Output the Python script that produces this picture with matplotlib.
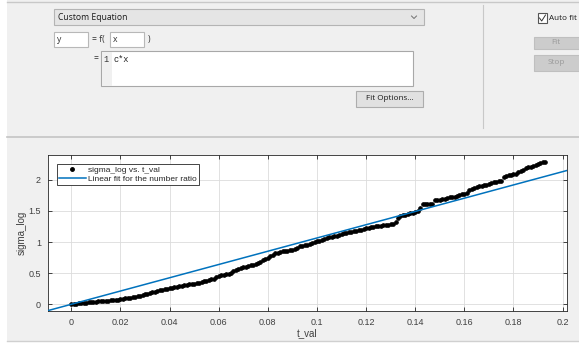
import numpy as np
import matplotlib.pyplot as plt
from matplotlib.patches import Rectangle
from matplotlib.lines import Line2D

# sampled data (t_val on a 0.001 grid)
sigma_log = [
    0.00, 0.005, 0.01, 0.015, 0.02, 0.022, 0.026, 0.03, 0.035, 0.04,
    0.042, 0.045, 0.05, 0.053, 0.055, 0.06, 0.063, 0.068, 0.072, 0.076, 0.08,
    0.086, 0.093, 0.10, 0.105, 0.11, 0.118, 0.13, 0.14, 0.15, 0.16,
    0.17, 0.18, 0.19, 0.20, 0.21, 0.225, 0.23, 0.24, 0.25, 0.26,
    0.268, 0.275, 0.28, 0.29, 0.30, 0.31, 0.315, 0.32, 0.325, 0.33,
    0.34, 0.35, 0.36, 0.37, 0.38, 0.39, 0.40, 0.41, 0.44, 0.455,
    0.465, 0.47, 0.48, 0.49, 0.50, 0.53, 0.55, 0.57, 0.585, 0.595,
    0.605, 0.615, 0.625, 0.635, 0.65, 0.665, 0.685, 0.71, 0.73, 0.75,
    0.78, 0.80, 0.82, 0.83, 0.845, 0.85, 0.855, 0.86, 0.87, 0.88,
    0.895, 0.91, 0.93, 0.94, 0.95, 0.96, 0.975, 0.99, 1.00, 1.01,
    1.02, 1.035, 1.05, 1.06, 1.075, 1.085, 1.095, 1.105, 1.115, 1.13,
    1.14, 1.15, 1.155, 1.165, 1.175, 1.18, 1.19, 1.20, 1.21, 1.22,
    1.23, 1.24, 1.245, 1.255, 1.26, 1.265, 1.27, 1.275, 1.28, 1.285,
    1.29, 1.33, 1.38, 1.415, 1.43, 1.44, 1.45, 1.46, 1.47, 1.49,
    1.50, 1.54, 1.61, 1.61, 1.615, 1.62, 1.62, 1.67, 1.675, 1.68,
    1.69, 1.70, 1.71, 1.72, 1.725, 1.73, 1.74, 1.755, 1.765, 1.775,
    1.79, 1.84, 1.855, 1.87, 1.885, 1.895, 1.905, 1.915, 1.925, 1.94,
    1.95, 1.96, 1.97, 1.98, 1.99, 2.05, 2.065, 2.075, 2.085, 2.09,
    2.10, 2.12, 2.14, 2.16, 2.19, 2.20, 2.21, 2.225, 2.24, 2.25,
    2.265, 2.28, 2.29,
]
t_val = np.round(np.arange(len(sigma_log)) * 0.001, 3)

c_fit = 10.66          # fitted coefficient for y = c*x
x_lim = (-0.0095, 0.2018)
y_lim = (-0.108, 2.40)
x_ticks = [0, 0.02, 0.04, 0.06, 0.08, 0.1, 0.12, 0.14, 0.16, 0.18, 0.2]
x_ticklabels = ["0", "0.02", "0.04", "0.06", "0.08", "0.1", "0.12", "0.14", "0.16", "0.18", "0.2"]
y_ticks = [0, 0.5, 1, 1.5, 2]
y_ticklabels = ["0", "0.5", "1", "1.5", "2"]

W, H = 579, 343
fig = plt.figure(figsize=(W / 100, H / 100), dpi=100)
fig.patch.set_facecolor("white")

# ---- window panel drawn in pixel coordinates ----
gui = fig.add_axes([0, 0, 1, 1])
gui.set_xlim(0, W)
gui.set_ylim(H, 0)
gui.axis("off")

ui_font = "Open Sans"
fs_ui = 6.2
bg = "#f0f0f0"


def box(x0, y0, x1, y1, fc, ec, lw=0.8, z=1):
    gui.add_patch(Rectangle((x0, y0), x1 - x0, y1 - y0, facecolor=fc, edgecolor=ec, linewidth=lw, zorder=z))


box(7, 0, W + 2, 341, bg, "none", 0)
gui.plot([7, W], [1.5, 1.5], color="#c8c8c8", lw=1.0, zorder=2)
gui.plot([7, W], [137, 137], color="#c4c4c4", lw=1.2, zorder=2)
gui.plot([7, W], [341, 341], color="#d0d0d0", lw=1.0, zorder=2)
gui.plot([483, 483], [5, 128], color="#c8c8c8", lw=0.8, zorder=2)

# model dropdown
box(54, 9, 424, 25, "#e5e5e5", "#b4b4b4")
gui.text(58, 17.5, "Custom Equation", fontsize=fs_ui, family=ui_font, va="center", ha="left", color="#1a1a1a", zorder=3)
gui.plot([411.5, 414, 416.5], [16, 18.5, 16], color="#707070", lw=0.7, zorder=3)

# y = f(x) fields
box(54, 32, 88, 47, "white", "#b8b8b8")
gui.text(57, 40, "y", fontsize=fs_ui, family=ui_font, va="center", color="#333333", zorder=3)
gui.text(92, 39.5, "= f(", fontsize=fs_ui, family=ui_font, va="center", color="#333333", zorder=3)
box(110, 32, 144, 47, "white", "#b8b8b8")
gui.text(113, 40, "x", fontsize=fs_ui, family=ui_font, va="center", color="#333333", zorder=3)
gui.text(148, 39.5, ")", fontsize=fs_ui, family=ui_font, va="center", color="#333333", zorder=3)

# equation editor
gui.text(94, 59, "=", fontsize=fs_ui, family=ui_font, va="center", color="#333333", zorder=3)
box(101, 51, 413, 86, "white", "#a8a8a8")
box(101.5, 51.5, 112, 85.5, "#f0f0f0", "none", 0, z=2)
gui.text(103.5, 59.5, "1", fontsize=6.2, family="Liberation Mono", va="center", color="#333333", zorder=3)
gui.text(113, 59.5, "c*x", fontsize=6.2, family="Liberation Mono", va="center", color="#222222", zorder=3)

# buttons
box(356, 91, 423, 107, "#e1e1e1", "#adadad")
gui.text(389.5, 99, "Fit Options...", fontsize=5.9, family=ui_font, ha="center", va="center", color="#1a1a1a", zorder=3)

box(537.5, 13, 547, 23, "white", "#555555")
gui.plot([539.5, 541.7, 545.5], [18, 21, 15], color="#333333", lw=0.7, zorder=3)
gui.text(549, 18, "Auto fit", fontsize=5.9, family=ui_font, va="center", color="#1a1a1a", zorder=3)
box(534, 37, 581, 49, "#cccccc", "#bfbfbf")
gui.text(556, 43, "Fit", fontsize=5.9, family=ui_font, ha="center", va="center", color="#9a9a9a", zorder=3)
box(534, 55, 581, 71, "#cccccc", "#bfbfbf")
gui.text(556, 63, "Stop", fontsize=5.9, family=ui_font, ha="center", va="center", color="#9a9a9a", zorder=3)

# ---- fit plot ----
ax_l, ax_r, ax_t, ax_b = 48, 567, 155, 311
ax = fig.add_axes([ax_l / W, (H - ax_b) / H, (ax_r - ax_l) / W, (ax_b - ax_t) / H])
ax.set_facecolor("white")

ax.plot(t_val, sigma_log, ".", color="black", markersize=5.0, markeredgewidth=0.8, zorder=3)
x_line = np.array(x_lim)
ax.plot(x_line, c_fit * x_line, color="#0072bd", lw=1.1, zorder=4)

ax.set_xlim(*x_lim)
ax.set_ylim(*y_lim)
ax.set_xticks(x_ticks)
ax.set_xticklabels(x_ticklabels)
ax.set_yticks(y_ticks)
ax.set_yticklabels(y_ticklabels)
ax.grid(True, color="#dcdcdc", lw=0.6)
ax.set_axisbelow(True)
ax.tick_params(direction="in", length=3, width=0.6, top=True, right=True,
               labelsize=6.5, colors="#262626", labelcolor="#404040", pad=5)
for lab in ax.get_xticklabels() + ax.get_yticklabels():
    lab.set_family("Liberation Sans")
for sp in ax.spines.values():
    sp.set_color("#262626")
    sp.set_linewidth(0.6)

ax.set_xlabel("t_val", fontsize=7, family="Liberation Sans", color="#404040", labelpad=1)
ax.set_ylabel("sigma_log", fontsize=7, family="Liberation Sans", color="#404040", labelpad=1)

handles = [
    Line2D([], [], ls="none", marker=".", color="black", markersize=5),
    Line2D([], [], color="#0072bd", lw=1.1),
]
leg = ax.legend(handles, ["sigma_log vs. t_val", "Linear fit for the number ratio"],
                loc="upper left", bbox_to_anchor=(9 / (ax_r - ax_l), 1 - 9 / (ax_b - ax_t)),
                borderaxespad=0, fancybox=False, framealpha=1, edgecolor="#262626",
                prop={"family": "Liberation Sans", "size": 6},
                handlelength=3.2, handletextpad=0.3, borderpad=0.25, labelspacing=0.15)
leg.get_frame().set_linewidth(0.6)
for txt in leg.get_texts():
    txt.set_color("#262626")

fig.savefig("out.png", dpi=100, facecolor=fig.get_facecolor())
